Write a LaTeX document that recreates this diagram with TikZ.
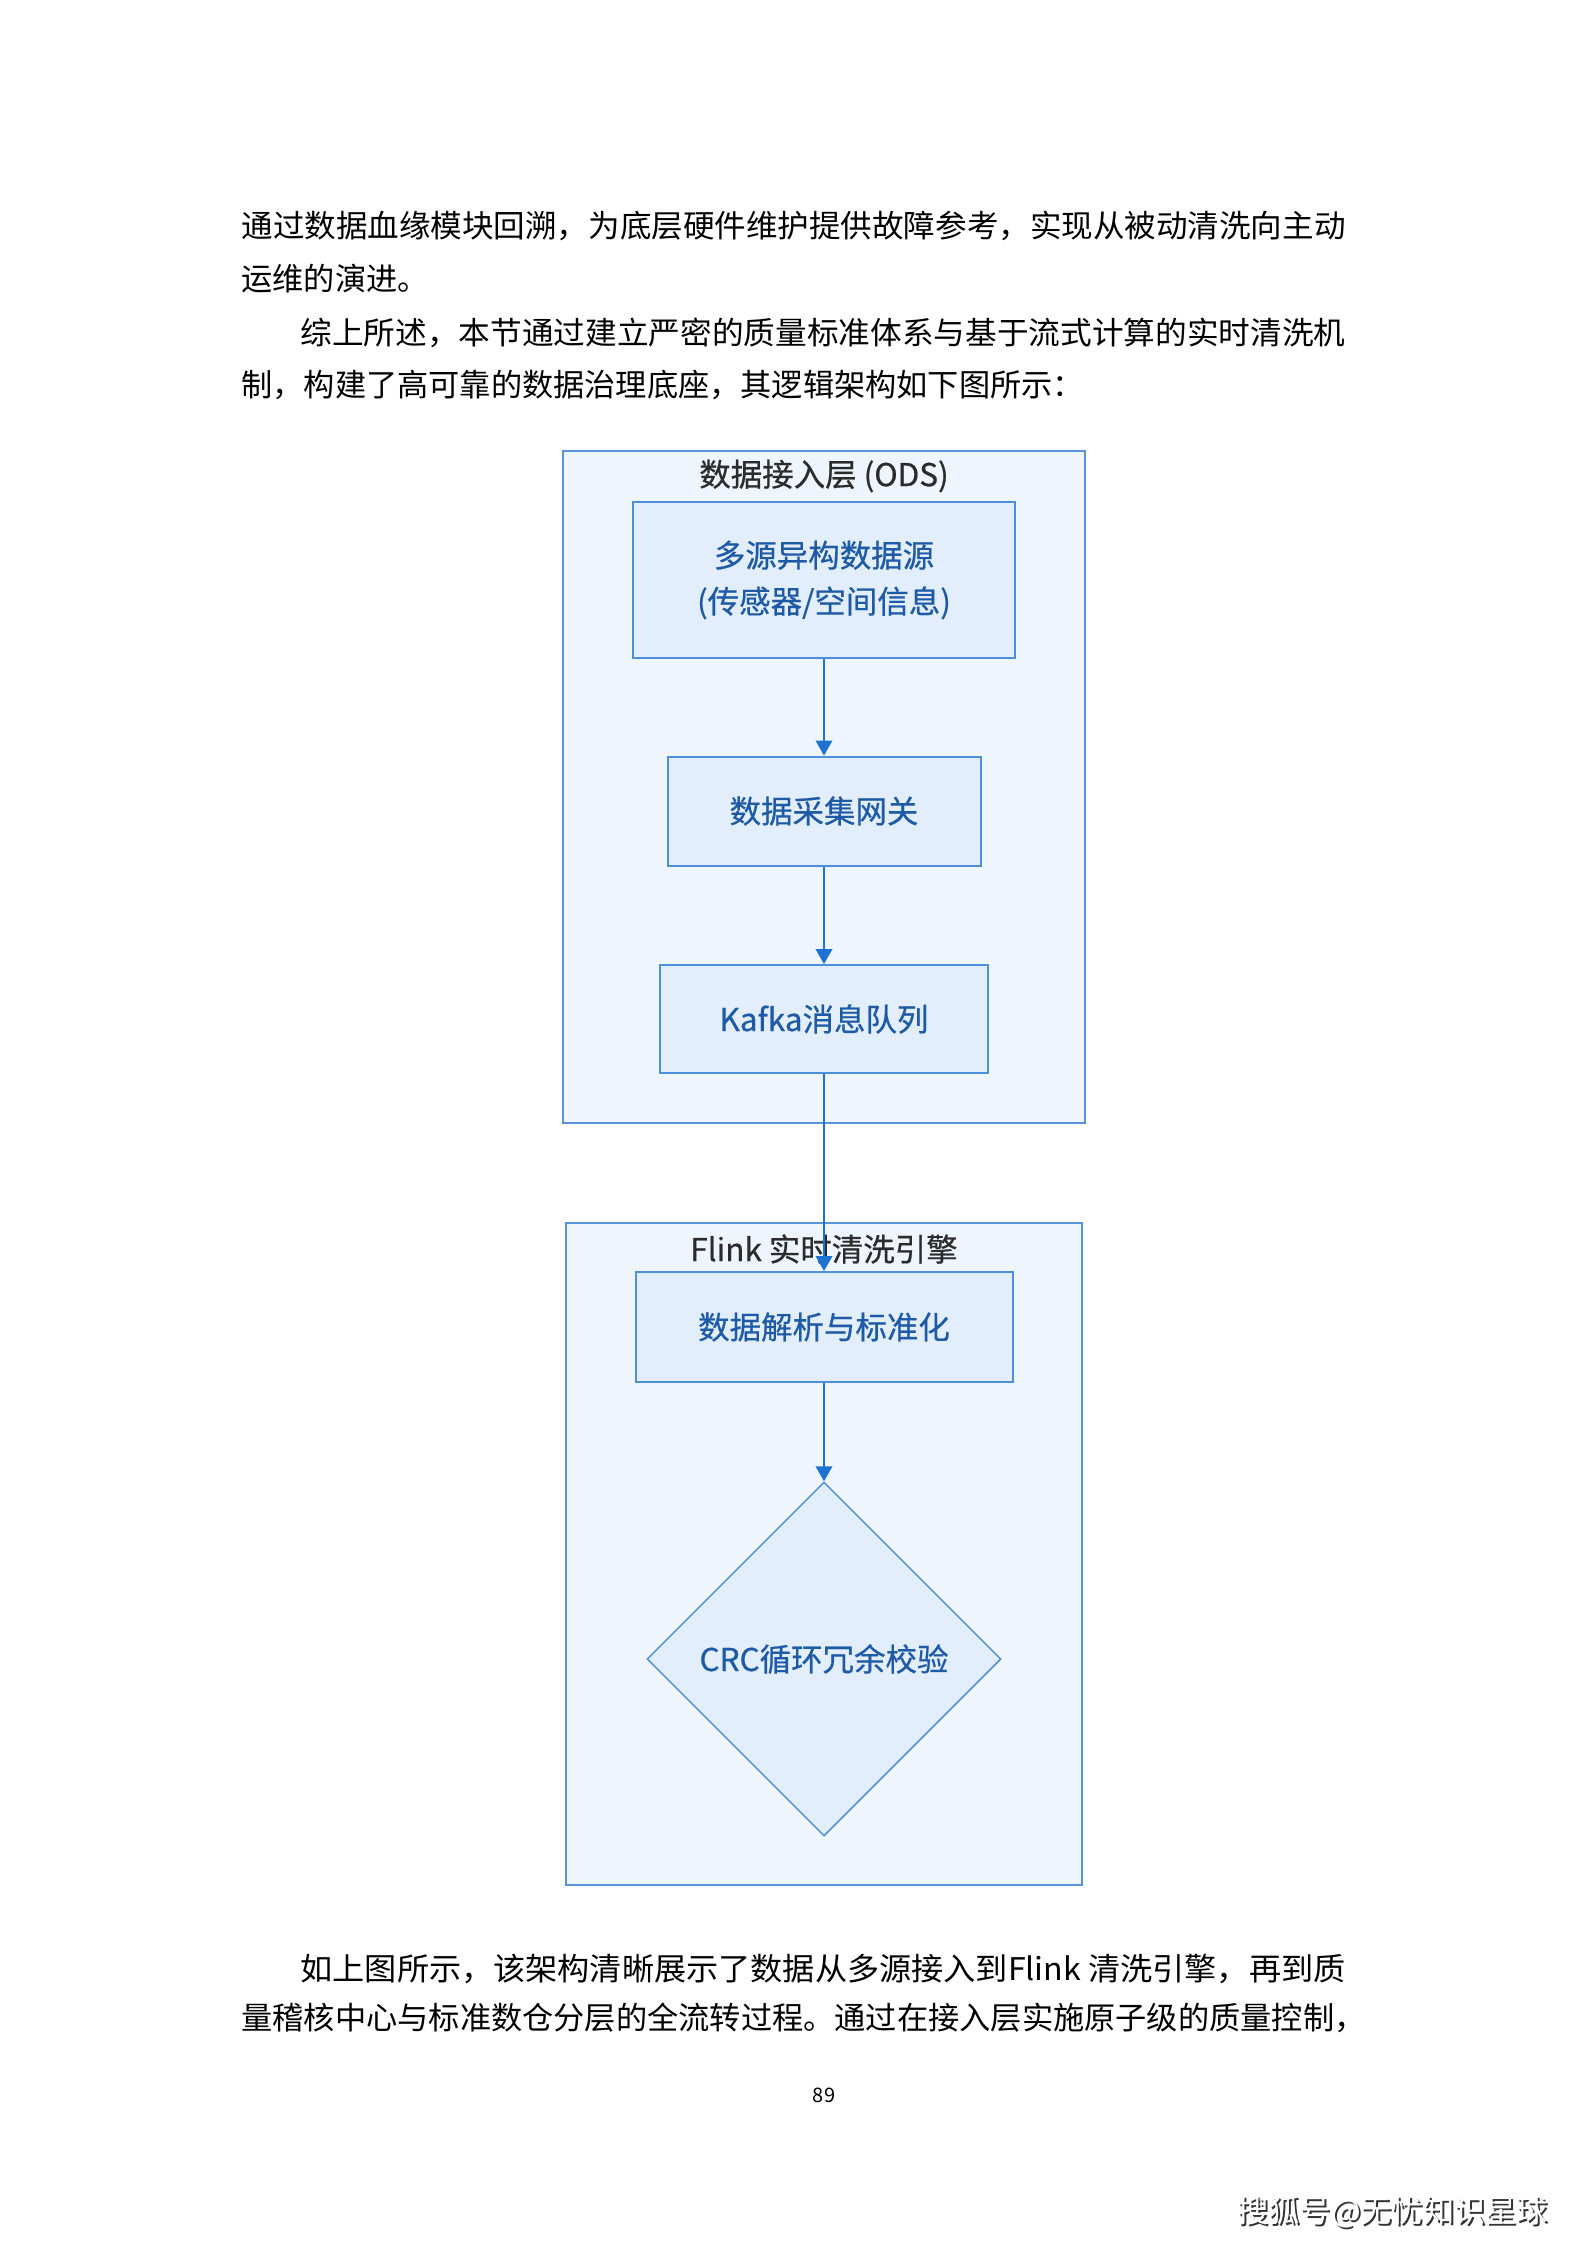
\documentclass[tikz,border=0pt]{standalone}
\usepackage{fontspec}
\usepackage{graphicx}
\setmainfont{Noto Sans CJK SC}
\newfontfamily\diagfont[FakeBold=0.6]{Noto Sans CJK SC}
\usetikzlibrary{shapes.geometric,arrows.meta}

\newlength\pxu
\setlength\pxu{0.375pt}
\definecolor{layerfill}{HTML}{EEF5FD}
\definecolor{layerdraw}{HTML}{5B93DA}
\definecolor{stagefill}{HTML}{E2EEFB}
\definecolor{stagedraw}{HTML}{4D8FDA}
\definecolor{stagetext}{HTML}{1F5AA6}
\definecolor{titletext}{HTML}{2B2B2B}
\definecolor{flowblue}{HTML}{1E73D2}

% one justified line of body text, stretched to a given width in pixels
\newcommand\bodyline[2]{\resizebox{#1\pxu}{\height}{#2}}

\begin{document}
\begin{tikzpicture}[x=0.375pt, y=-0.375pt,
    body/.style={anchor=west, inner sep=0pt, font=\fontsize{11.7pt}{14pt}\selectfont},
    layer/.style={draw=layerdraw, fill=layerfill, line width=0.75pt, inner sep=0pt},
    layertitle/.style={text=titletext, inner sep=0pt, font=\diagfont\fontsize{11.8pt}{14pt}\selectfont},
    stage/.style={draw=stagedraw, fill=stagefill, line width=0.75pt, text=stagetext,
        align=center, inner sep=0pt, font=\diagfont\fontsize{11.8pt}{17.25pt}\selectfont},
    check/.style={diamond, aspect=1, draw=stagedraw, fill=stagefill, line width=0.55pt,
        text=stagetext, inner sep=0pt, font=\diagfont\fontsize{11.8pt}{14pt}\selectfont},
    flow/.style={draw=flowblue, line width=0.75pt, -{Triangle[length=5.6pt,width=6.2pt]}}]
    \useasboundingbox (0,0) rectangle (1587,2245);

    % Text above the figure
    \node[body] (para1a) at (241,226) {\bodyline{1104}{通过数据血缘模块回溯，为底层硬件维护提供故障参考，实现从被动清洗向主动}};
    \node[body] (para1b) at (241,279) {运维的演进。};
    \node[body] (para2a) at (300,333) {\bodyline{1045}{综上所述，本节通过建立严密的质量标准体系与基于流式计算的实时清洗机}};
    \node[body] (para2b) at (241,385) {制，构建了高可靠的数据治理底座，其逻辑架构如下图所示：};

    % Access layer
    \node[layer, minimum width={522*\pxu}, minimum height={672*\pxu}] (ods) at (824,787) {};
    \node[layertitle] (odstitle) at (824,476) {数据接入层 (ODS)};
    \node[stage, minimum width={382*\pxu}, minimum height={156*\pxu}] (source) at (824,580) {多源异构数据源\\(传感器/空间信息)};
    \node[stage, minimum width={313*\pxu}, minimum height={109*\pxu}] (gateway) at (824,811) {数据采集网关};
    \node[stage, minimum width={328*\pxu}, minimum height={108*\pxu}] (kafka) at (824,1019) {Kafka消息队列};

    % Flink engine
    \node[layer, minimum width={516*\pxu}, minimum height={662*\pxu}] (flink) at (824,1554) {};
    \node[layertitle] (flinktitle) at (824,1249) {Flink 实时清洗引擎};
    \node[stage, minimum width={377*\pxu}, minimum height={110*\pxu}] (parse) at (824,1327) {数据解析与标准化};
    \node[check, minimum width={354*\pxu}, minimum height={354*\pxu}] (crc) at (824,1659) {CRC循环冗余校验};

    % Flow
    \draw[flow] (source.south) -- (gateway.north);
    \draw[flow] (gateway.south) -- (kafka.north);
    \draw[flow] (kafka.south) -- (parse.north);
    \draw[flow] (parse.south) -- (crc.north);

    % Text below the figure
    \node[body] (para3a) at (300,1969) {\bodyline{1045}{如上图所示，该架构清晰展示了数据从多源接入到Flink 清洗引擎，再到质}};
    \node[body] (para3b) at (241,2018) {\bodyline{1124}{量稽核中心与标准数仓分层的全流转过程。通过在接入层实施原子级的质量控制，}};
    \node[inner sep=0pt, font=\fontsize{7.5pt}{9pt}\selectfont] (pagenum) at (824,2095) {89};

    % Source mark
    \node[body, text=black!80] (markshadow) at (1239,2214) {搜狐号@无忧知识星球};
    \node[body, text=white] (mark) at (1237,2212) {搜狐号@无忧知识星球};
\end{tikzpicture}
\end{document}
